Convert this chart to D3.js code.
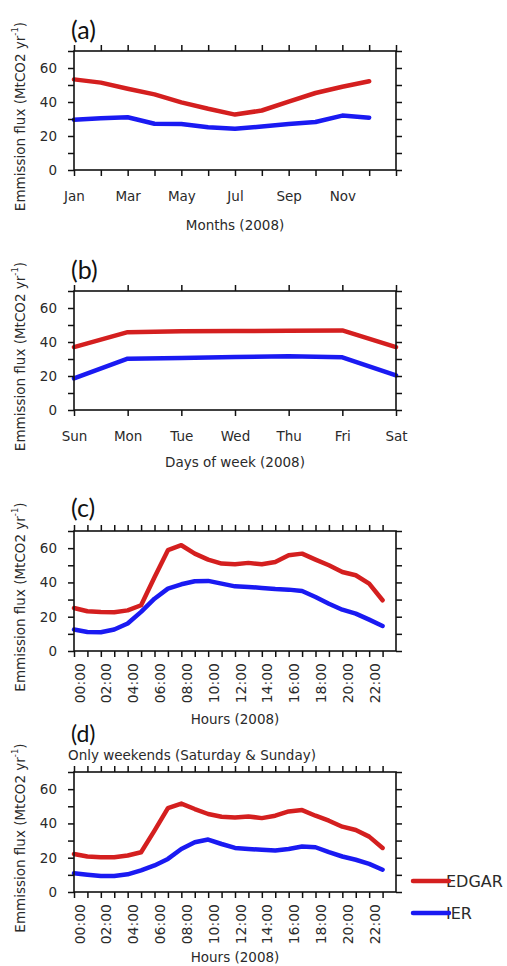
<!DOCTYPE html>
<html>
<head>
<meta charset="utf-8">
<script src="https://cdn.jsdelivr.net/npm/d3@7"></script>
<style>
  html, body { margin: 0; padding: 0; background: #fff; }
  svg { display: block; }
</style>
</head>
<body>
<svg id="chart" width="507" height="966"></svg>
<script>
// ---------------- DATA ----------------
const months = ["Jan","Feb","Mar","Apr","May","Jun","Jul","Aug","Sep","Oct","Nov","Dec"];
const monthIndex = [0,1,2,3,4,5,6,7,8,9,10,11];
const edgarMonthly = [53.3,51.4,47.8,44.5,39.8,36.0,32.6,35.0,40.2,45.3,49.0,52.2];
const ierMonthly   = [29.5,30.4,31.0,27.2,27.1,25.2,24.2,25.6,27.1,28.2,32.0,30.8];

const days = ["Sun","Mon","Tue","Wed","Thu","Fri","Sat"];
const dayIndex = [0,1,2,3,4,5,6];
const edgarDaily = [37.0,45.8,46.3,46.5,46.6,46.8,37.0];
const ierDaily   = [18.6,30.2,30.6,31.2,31.6,31.0,20.4];

const hours = [0,1,2,3,4,5,6,7,8,9,10,11,12,13,14,15,16,17,18,19,20,21,22,23];
const hourLabels = ["00:00","02:00","04:00","06:00","08:00","10:00","12:00","14:00","16:00","18:00","20:00","22:00"];
const edgarHourly = [25.1,23.2,22.8,22.6,23.7,26.7,43.0,58.8,61.7,56.8,53.3,51.0,50.6,51.4,50.6,51.9,55.8,56.8,53.3,50.0,46.1,44.2,39.3,29.6];
const ierHourly   = [12.5,11.1,10.9,12.5,16.0,22.8,30.5,36.4,38.9,40.7,40.9,39.3,37.7,37.4,36.8,36.2,35.8,35.0,31.5,27.6,24.1,21.8,18.3,14.6];
const edgarWeekend = [22.2,20.7,20.3,20.3,21.3,23.2,35.8,48.9,51.6,48.4,45.5,43.9,43.5,44.1,43.1,44.5,47.0,47.8,44.5,41.6,38.1,36.2,32.3,25.7];
const ierWeekend   = [11.0,10.1,9.3,9.3,10.3,12.6,15.5,19.3,25.1,29.0,30.6,28.0,25.7,25.1,24.6,24.2,25.1,26.5,26.1,23.2,20.7,18.8,16.4,13.0];

const yTicks = [0,10,20,30,40,50,60,70];
const seriesNames = ["EDGAR","IER"];
const seriesColors = ["#d41f1f","#1a1af2"];

// ---------------- DRAW ----------------
const svg = d3.select("#chart");
svg.append("rect").attr("width",507).attr("height",966).attr("fill","#fff");

const FONT = "'DejaVu Sans', sans-serif";
const TXT = "#2a2a2a";
const LEFT = 74, RIGHT = 396;

function panel(opt) {
  const g = svg.append("g");
  const x = d3.scaleLinear().domain(opt.xDomain).range([LEFT, RIGHT]);
  const y = d3.scaleLinear().domain([0,70]).range([opt.bottom, opt.top]);

  const line = d3.line().x((d,i)=>x(opt.xs[i])).y(d=>y(d));
  opt.series.forEach((s,k)=>{
    g.append("path").datum(s)
      .attr("d", line)
      .attr("fill","none")
      .attr("stroke", seriesColors[k])
      .attr("stroke-width", 4.5)
      .attr("stroke-linejoin","round")
      .attr("stroke-linecap","round");
  });

  g.append("rect")
    .attr("x", LEFT).attr("y", opt.top)
    .attr("width", RIGHT-LEFT).attr("height", opt.bottom-opt.top)
    .attr("fill","none").attr("stroke","#111").attr("stroke-width",1.6);

  const styleAxis = sel => {
    sel.select(".domain").remove();
    sel.selectAll("line").attr("stroke","#111").attr("stroke-width",1.5);
    sel.selectAll("text").attr("font-family",FONT).attr("font-size",13.5).attr("fill",TXT);
  };
  const left = d3.axisLeft(y).tickValues(yTicks).tickSize(6).tickPadding(11)
    .tickFormat(d => (d % 20 === 0 && d < 70) ? d : "");
  g.append("g").attr("transform",`translate(${LEFT},0)`).call(left).call(styleAxis);
  const right = d3.axisRight(y).tickValues(yTicks).tickSize(6).tickFormat("");
  g.append("g").attr("transform",`translate(${RIGHT},0)`).call(right).call(styleAxis);

  const top = d3.axisTop(x).tickValues(opt.xTicks).tickSize(6).tickFormat("");
  g.append("g").attr("transform",`translate(0,${opt.top})`).call(top).call(styleAxis);

  const bottom = d3.axisBottom(x).tickValues(opt.xTicks).tickSize(6).tickPadding(opt.rotated ? 0 : 15)
    .tickFormat(opt.rotated ? "" : opt.tickFormat);
  g.append("g").attr("transform",`translate(0,${opt.bottom})`).call(bottom).call(styleAxis);

  if (opt.rotated) {
    hourLabels.forEach((lab,i)=>{
      const px = x(hours[i*2]) + 5.5, py = opt.bottom + 12;
      g.append("text")
        .attr("transform",`translate(${px},${py}) rotate(-90)`)
        .attr("text-anchor","end")
        .attr("dominant-baseline","central")
        .attr("font-family",FONT).attr("font-size",14).attr("fill",TXT)
        .text(lab);
    });
  }

  g.append("text")
    .attr("x", 235).attr("y", opt.titleY)
    .attr("text-anchor","middle")
    .attr("font-family",FONT).attr("font-size",13.5).attr("fill",TXT)
    .text(opt.xTitle);

  const cy = (opt.top + opt.bottom)/2 + 6;
  const yt = g.append("text")
    .attr("transform",`translate(20,${cy}) rotate(-90)`)
    .attr("text-anchor","middle")
    .attr("dominant-baseline","central")
    .attr("font-family",FONT).attr("font-size",13.5).attr("fill",TXT);
  yt.append("tspan").text("Emmission flux (MtCO2 yr");
  yt.append("tspan").attr("font-size",8.5).attr("dy",-5).text("-1");
  yt.append("tspan").attr("dy",5).text(")");

  g.append("text")
    .attr("x", 71).attr("y", opt.letterY)
    .attr("font-family","Lato, 'Open Sans', sans-serif").attr("font-size",opt.letterSize || 25).attr("fill","#111")
    .text(opt.letter);

  if (opt.subtitle) {
    g.append("text")
      .attr("x", 68).attr("y", opt.top - 12)
      .attr("font-family",FONT).attr("font-size",13.5).attr("fill",TXT)
      .text(opt.subtitle);
  }
  return {x, y};
}

panel({
  top: 51, bottom: 170, xDomain: [0,12],
  xs: monthIndex, series: [edgarMonthly, ierMonthly],
  xTicks: [0,1,2,3,4,5,6,7,8,9,10,11,12],
  tickFormat: d => (d % 2 === 0 && d < 12) ? months[d] : "",
  xTitle: "Months (2008)", titleY: 230, letter: "(a)", letterY: 39
});

panel({
  top: 291, bottom: 410, xDomain: [0,6],
  xs: dayIndex, series: [edgarDaily, ierDaily],
  xTicks: dayIndex,
  tickFormat: d => days[d],
  xTitle: "Days of week (2008)", titleY: 467, letter: "(b)", letterY: 279
});

panel({
  top: 531, bottom: 651, xDomain: [0,24],
  xs: hours, series: [edgarHourly, ierHourly],
  xTicks: hours, rotated: true,
  xTitle: "Hours (2008)", titleY: 724, letter: "(c)", letterY: 517
});

panel({
  top: 772, bottom: 892, xDomain: [0,24],
  xs: hours, series: [edgarWeekend, ierWeekend],
  xTicks: hours, rotated: true,
  xTitle: "Hours (2008)", titleY: 962, letter: "(d)", letterY: 742, letterSize: 23,
  subtitle: "Only weekends (Saturday & Sunday)"
});

const legendYs = [881, 913];
seriesNames.forEach((name,k)=>{
  svg.append("text")
    .attr("x", 446).attr("y", legendYs[k])
    .attr("dominant-baseline","central")
    .attr("font-family",FONT).attr("font-size",16).attr("fill",TXT)
    .text(name);
  svg.append("line")
    .attr("x1", 413).attr("x2", 449)
    .attr("y1", legendYs[k]).attr("y2", legendYs[k])
    .attr("stroke", seriesColors[k]).attr("stroke-width", 4.5)
    .attr("stroke-linecap","round");
});
</script>
</body>
</html>
